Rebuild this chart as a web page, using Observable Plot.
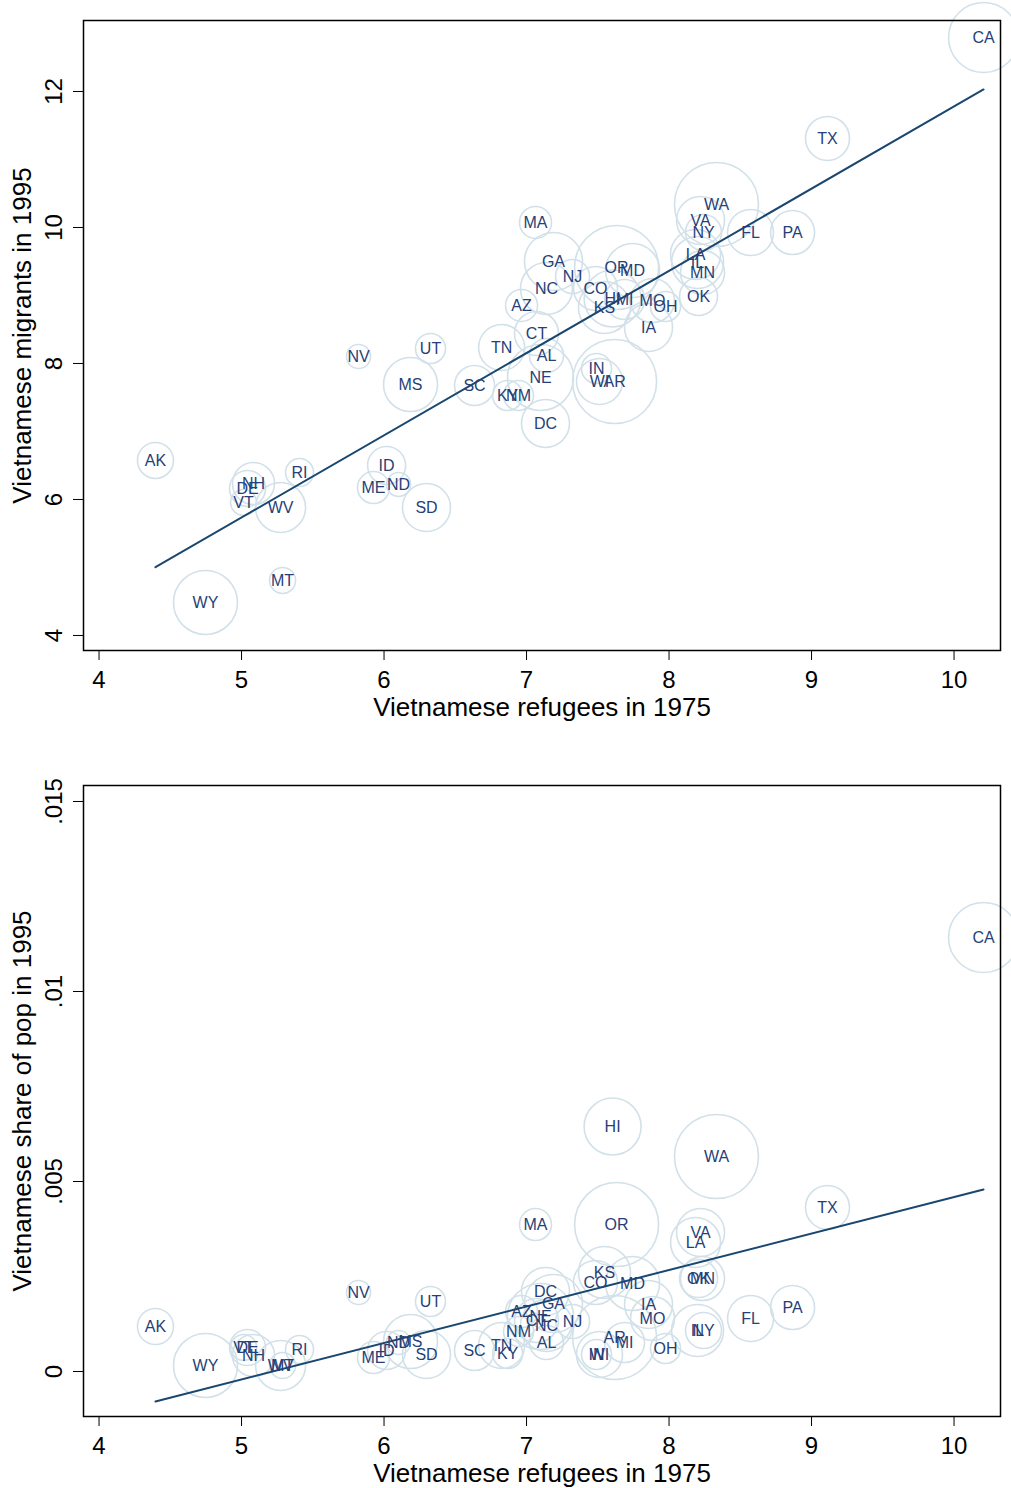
<!DOCTYPE html>
<html><head><meta charset="utf-8">
<script src="https://cdn.jsdelivr.net/npm/d3@7"></script>
<script src="https://cdn.jsdelivr.net/npm/@observablehq/plot@0.6"></script>
<style>
body{margin:0;background:#fff;}
#chart svg{display:block;}
</style></head><body><div id="chart"></div>
<script>
const states = ["CA","TX","PA","FL","WA","VA","NY","LA","IL","MN","OK","OH","MO","IA","MD","OR","MI","HI","KS","CO","NJ","GA","NC","MA","AZ","CT","TN","AL","NE","SC","KY","NM","DC","IN","WI","AR","MS","UT","NV","AK","NH","DE","VT","WV","RI","ID","ME","ND","SD","MT","WY"];
const refugees1975 = [10.207,9.112,8.867,8.572,8.333,8.221,8.242,8.186,8.200,8.235,8.207,7.975,7.884,7.856,7.744,7.632,7.688,7.604,7.547,7.484,7.323,7.189,7.140,7.063,6.965,7.070,6.825,7.140,7.098,6.635,6.867,6.944,7.133,7.491,7.512,7.618,6.186,6.326,5.821,4.396,5.084,5.042,5.014,5.274,5.407,6.018,5.926,6.102,6.298,5.288,4.747];
const migrants1995 = [12.794,11.309,9.926,9.926,10.338,10.103,9.926,9.603,9.485,9.338,8.985,8.838,8.926,8.529,9.368,9.412,8.941,8.956,8.824,9.103,9.279,9.500,9.103,10.074,8.853,8.441,8.235,8.118,7.794,7.676,7.529,7.529,7.118,7.926,7.735,7.735,7.691,8.221,8.103,6.574,6.235,6.162,5.956,5.882,6.397,6.500,6.176,6.221,5.882,4.809,4.485];
const share1995 = [0.011421,0.004316,0.001684,0.001395,0.005658,0.003658,0.001079,0.003395,0.001079,0.002447,0.002447,0.000605,0.001395,0.001763,0.002316,0.003868,0.000763,0.006447,0.002605,0.002342,0.001316,0.001789,0.001211,0.003868,0.001579,0.001342,0.000684,0.000763,0.001447,0.000553,0.000474,0.001053,0.002105,0.000447,0.000447,0.000895,0.000789,0.001842,0.002079,0.001184,0.000421,0.000632,0.000632,0.000158,0.000579,0.000553,0.000368,0.000763,0.000447,0.000158,0.000158];
const weight = [1225,484,484,529,1764,576,324,625,676,484,361,225,484,576,729,1764,400,812,676,484,289,841,676,256,256,484,529,289,1089,400,225,225,576,225,529,1764,729,225,144,324,441,324,169,625,196,361,256,144,576,169,1024];

const xTicks = [4,5,6,7,8,9,10];
const yTicksTop = [4,6,8,10,12];
const yTickLabelsTop = ["4","6","8","10","12"];
const yTicksBottom = [0,0.005,0.01,0.015];
const yTickLabelsBottom = ["0",".005",".01",".015"];
const fitX = [4.396, 10.207];
const fitTop = [5.005, 12.03];
const fitBottom = [-0.000789, 0.00479];
const xTitle = "Vietnamese refugees in 1975";
const yTitleTop = "Vietnamese migrants in 1995";
const yTitleBottom = "Vietnamese share of pop in 1995";

const rows = states.map((s,i)=>({state:s, x:refugees1975[i], y1:migrants1995[i], y2:share1995[i], w:weight[i]}));

function panel({yKey, yDomain, yTicks, yLabels, yTitle, fitY, height, marginTop, marginBottom}) {
  const fit = fitX.map((x,i)=>({x, y: fitY[i]}));
  return Plot.plot({
    width: 1011, height, marginTop, marginBottom, marginLeft: 83, marginRight: 11,
    style: {fontFamily: "'Liberation Sans', Arial, sans-serif", background: "#fff", color: "#000"},
    x: {domain: [3.891, 10.326]},
    y: {domain: yDomain},
    r: {type: "sqrt", domain: [0, 1764], range: [0, 42]},
    marks: [
      Plot.dot(rows, {x: "x", y: yKey, r: "w", stroke: "#d2e1e9", strokeWidth: 1.6, fill: "none"}),
      Plot.line(fit, {x: "x", y: "y", stroke: "#1a476f", strokeWidth: 2}),
      Plot.text(rows, {x: "x", y: yKey, text: "state", fill: "#263f77", fontSize: 16}),
      Plot.frame({stroke: "#000", strokeWidth: 1.5}),
      Plot.axisX({ticks: xTicks, tickSize: 10, tickPadding: 10, fontSize: 24, label: null, tickFormat: d => String(d)}),
      Plot.axisY({ticks: yTicks, tickSize: 10, tickPadding: 12, tickRotate: -90, fontSize: 24, label: null,
        tickFormat: d => yLabels[yTicks.indexOf(d)]}),
      Plot.text([xTitle], {frameAnchor: "bottom", dy: 65, lineAnchor: "bottom", textAnchor: "middle", fontSize: 26, text: d => d}),
      Plot.text([yTitle], {frameAnchor: "left", dx: -53, rotate: -90, lineAnchor: "bottom", textAnchor: "middle", fontSize: 26, text: d => d})
    ]
  });
}

const root = document.getElementById("chart");
root.append(panel({yKey: "y1", yDomain: [3.779, 13.044], yTicks: yTicksTop, yLabels: yTickLabelsTop, yTitle: yTitleTop, fitY: fitTop, height: 745, marginTop: 20, marginBottom: 95}));
root.append(panel({yKey: "y2", yDomain: [-0.001184, 0.015421], yTicks: yTicksBottom, yLabels: yTickLabelsBottom, yTitle: yTitleBottom, fitY: fitBottom, height: 743, marginTop: 40, marginBottom: 72}));
</script></body></html>
